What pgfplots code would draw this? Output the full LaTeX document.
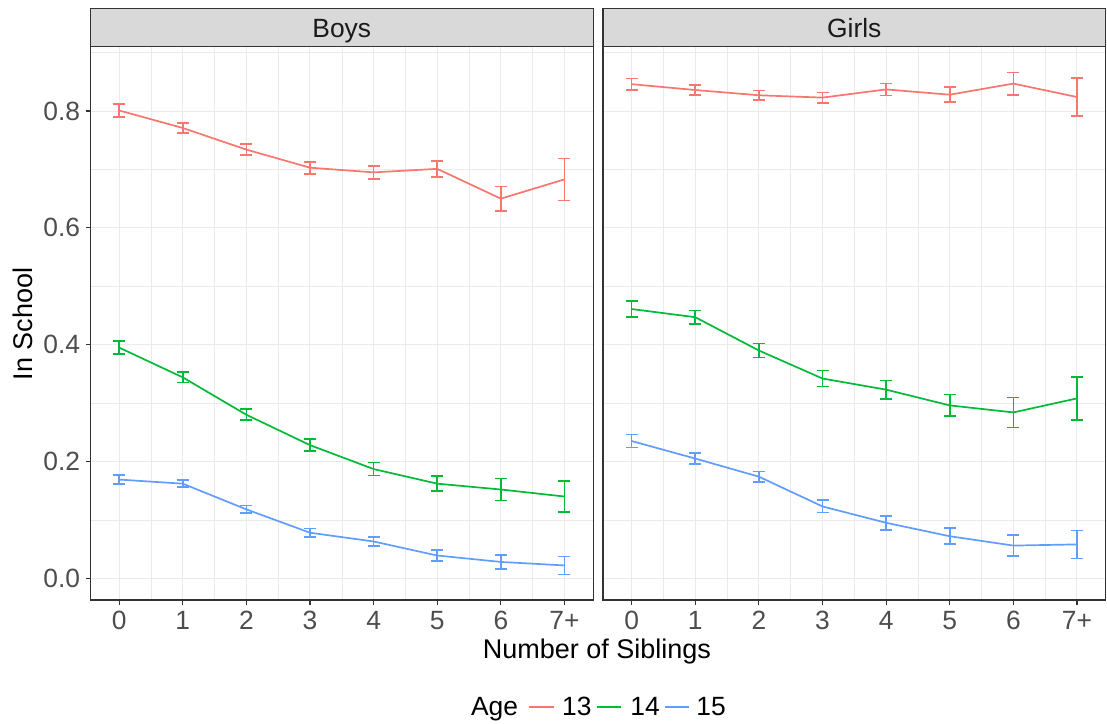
\documentclass[border=0pt]{standalone}
\usepackage{fontspec}
\setmainfont{Liberation Sans}
\usepackage{pgfplots}
\pgfplotsset{compat=1.18}
\definecolor{c13}{HTML}{F8766D}
\definecolor{c14}{HTML}{00BA38}
\definecolor{c15}{HTML}{619CFF}
\definecolor{gridmaj}{HTML}{EBEBEB}
\definecolor{border}{HTML}{333333}
\definecolor{stripbg}{HTML}{D9D9D9}
\definecolor{ticklab}{HTML}{4D4D4D}
\definecolor{striptext}{HTML}{1A1A1A}

\pgfplotsset{
 panel/.style={
  scale only axis, width=251.3pt, height=276.75pt,
  xmin=-0.45, xmax=7.45, ymin=-0.0372, ymax=0.9105,
  xtick={0,1,2,3,4,5,6,7}, xticklabels={0,1,2,3,4,5,6,7+},
  minor xtick={0.5,1.5,2.5,3.5,4.5,5.5,6.5},
  ytick={0,0.2,0.4,0.6,0.8}, minor ytick={0.1,0.3,0.5,0.7,0.9},
  grid=both,
  major grid style={gridmaj, line width=0.5pt},
  minor grid style={gridmaj, line width=0.3pt},
  axis line style={border, line width=0.55pt},
  tick align=outside, major tick length=2.5pt, minor tick length=0pt,
  tick style={border, line width=0.55pt},
  xtick pos=bottom, ytick pos=left,
  ticklabel style={font=\fontsize{13.2}{15}\selectfont, text=ticklab},
  xticklabel style={anchor=base, yshift=-12pt},
  yticklabel style={anchor=east, inner sep=0pt, xshift=-2.5pt},
  clip=false,
 },
 ser/.style={#1, line width=0.85pt, mark=none,
  error bars/.cd, y dir=both, y explicit,
  error bar style={#1, line width=0.85pt},
  error mark options={#1, rotate=90, line width=0.85pt, mark size=3pt}},
}

\begin{document}
\begin{tikzpicture}
\path[use as bounding box] (0,0) rectangle (553.5pt,-361.5pt);

\begin{axis}[panel, at={(45.25pt,-300pt)}, anchor=south west,
  yticklabels={0.0,0.2,0.4,0.6,0.8}]
\addplot[ser=c13] coordinates {
 (0,0.801) +- (0,0.011) (1,0.771) +- (0,0.009) (2,0.734) +- (0,0.0095)
 (3,0.703) +- (0,0.0103) (4,0.695) +- (0,0.0114) (5,0.701) +- (0,0.0137)
 (6,0.650) +- (0,0.021) (7,0.683) +- (0,0.036)};
\addplot[ser=c14] coordinates {
 (0,0.395) +- (0,0.011) (1,0.344) +- (0,0.009) (2,0.280) +- (0,0.0094)
 (3,0.228) +- (0,0.0103) (4,0.187) +- (0,0.011) (5,0.162) +- (0,0.013)
 (6,0.152) +- (0,0.019) (7,0.140) +- (0,0.027)};
\addplot[ser=c15] coordinates {
 (0,0.169) +- (0,0.008) (1,0.162) +- (0,0.006) (2,0.118) +- (0,0.0065)
 (3,0.078) +- (0,0.007) (4,0.063) +- (0,0.008) (5,0.039) +- (0,0.009)
 (6,0.028) +- (0,0.0117) (7,0.022) +- (0,0.0154)};
\end{axis}

\begin{axis}[panel, at={(301.5pt,-300pt)}, anchor=south west,
  yticklabels={}, y tick style={draw=none}]
\addplot[ser=c13] coordinates {
 (0,0.846) +- (0,0.0097) (1,0.836) +- (0,0.008) (2,0.827) +- (0,0.0083)
 (3,0.823) +- (0,0.009) (4,0.837) +- (0,0.0103) (5,0.828) +- (0,0.0128)
 (6,0.847) +- (0,0.019) (7,0.824) +- (0,0.032)};
\addplot[ser=c14] coordinates {
 (0,0.461) +- (0,0.014) (1,0.447) +- (0,0.0117) (2,0.390) +- (0,0.012)
 (3,0.342) +- (0,0.0137) (4,0.323) +- (0,0.0157) (5,0.296) +- (0,0.0185)
 (6,0.284) +- (0,0.0256) (7,0.308) +- (0,0.037)};
\addplot[ser=c15] coordinates {
 (0,0.235) +- (0,0.011) (1,0.205) +- (0,0.009) (2,0.174) +- (0,0.009)
 (3,0.123) +- (0,0.0105) (4,0.095) +- (0,0.012) (5,0.072) +- (0,0.0137)
 (6,0.056) +- (0,0.018) (7,0.058) +- (0,0.024)};
\end{axis}

% facet strips
\draw[fill=stripbg, draw=border, line width=0.55pt] (45.25pt,-4.25pt) rectangle (296.55pt,-23.25pt);
\draw[fill=stripbg, draw=border, line width=0.55pt] (301.5pt,-4.25pt) rectangle (552.8pt,-23.25pt);
\node[anchor=base, inner sep=0pt, text=striptext, font=\fontsize{13.2}{15}\selectfont] at (170.9pt,-18.85pt) {Boys};
\node[anchor=base, inner sep=0pt, text=striptext, font=\fontsize{13.2}{15}\selectfont] at (427.15pt,-18.85pt) {Girls};

% axis titles
\node[anchor=base, inner sep=0pt, font=\fontsize{13.5}{15}\selectfont] at (298.5pt,-329.15pt) {Number of Siblings};
\node[anchor=base, rotate=90, inner sep=0pt, font=\fontsize{13.5}{15}\selectfont] at (16.35pt,-162pt) {In School};

% legend
\node[anchor=base west, inner sep=0pt, font=\fontsize{13.2}{15}\selectfont] at (235.35pt,-357.5pt) {Age};
\draw[c13, line width=1pt] (264.5pt,-353.35pt) -- (277pt,-353.35pt);
\node[anchor=base west, inner sep=0pt, font=\fontsize{13.2}{15}\selectfont] at (280.85pt,-357.5pt) {13};
\draw[c14, line width=1pt] (298.35pt,-353.35pt) -- (310.5pt,-353.35pt);
\node[anchor=base west, inner sep=0pt, font=\fontsize{13.2}{15}\selectfont] at (315pt,-357.5pt) {14};
\draw[c15, line width=1pt] (332.5pt,-353.35pt) -- (344.5pt,-353.35pt);
\node[anchor=base west, inner sep=0pt, font=\fontsize{13.2}{15}\selectfont] at (348pt,-357.5pt) {15};
\end{tikzpicture}
\end{document}
